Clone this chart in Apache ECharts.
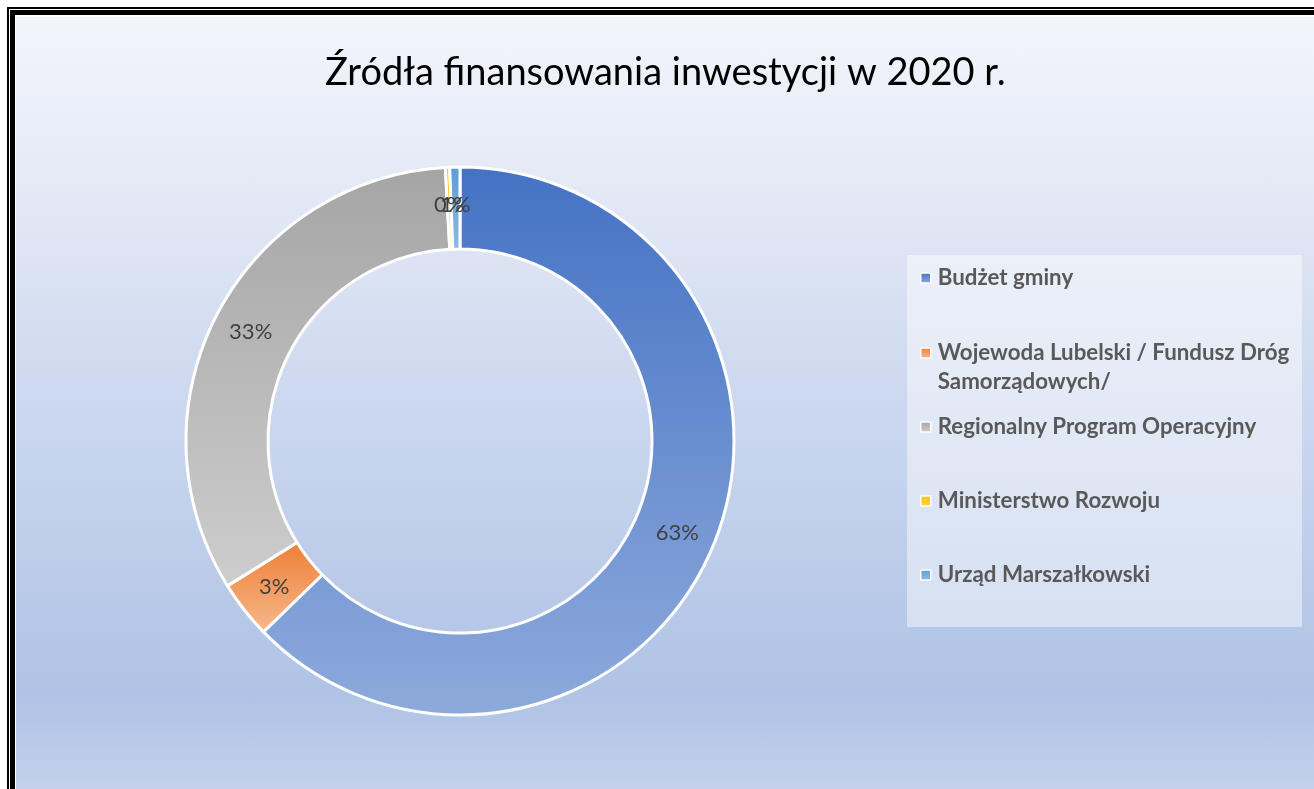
<!DOCTYPE html>
<html>
<head>
<meta charset="utf-8">
<script src="https://cdn.jsdelivr.net/npm/echarts@6/dist/echarts.min.js"></script>
<style>
html,body{margin:0;padding:0;background:#fff;}
#wrap{position:relative;width:1314px;height:789px;overflow:hidden;background:#fff;}
#bg{position:absolute;left:16px;top:17px;right:0;bottom:0;
  background:linear-gradient(to bottom,#f3f5fb 0%,#e2e8f5 24%,#ccd8ef 50%,#b8c9e8 76%,#afc3e6 88%,#c4d0ec 100%);}
.fr{position:absolute;background:#000;}
#chart{position:absolute;left:0;top:0;width:1314px;height:789px;}
</style>
</head>
<body>
<div id="wrap">
  <div id="bg"></div>
  <div class="fr" style="left:7px;top:7px;width:1307px;height:1.5px"></div>
  <div class="fr" style="left:7px;top:7px;width:1.5px;height:782px"></div>
  <div class="fr" style="left:10px;top:10px;width:1304px;height:5px"></div>
  <div class="fr" style="left:10px;top:10px;width:5px;height:779px"></div>
  <div id="chart"></div>
</div>
<script>
// ---- data ----
const titleText = 'Źródła finansowania inwestycji w 2020 r.';
const categories = [
  'Budżet gminy',
  'Wojewoda Lubelski / Fundusz Dróg Samorządowych/',
  'Regionalny Program Operacyjny',
  'Ministerstwo Rozwoju',
  'Urząd Marszałkowski'
];
const shares = [62.7, 3.4, 33.0, 0.25, 0.6];

// ---- styles / layout ----
const gradStops = [
  ['#4472c4', '#8eaadc'],
  ['#ee7f36', '#f6b88b'],
  ['#a5a5a5', '#cdcdcd'],
  ['#ffc000', '#ffd24d'],
  ['#5b9bd5', '#8dbbe5']
];
const legendCenters = [278, 353, 427, 501, 575];
const FONT = 'Lato, "Open Sans", sans-serif';

const chart = echarts.init(document.getElementById('chart'), null, {renderer: 'canvas'});

const legends = categories.map((n, i) => {
  const twoLine = i === 1;
  return {
    data: [n],
    orient: 'vertical',
    left: 920,
    top: twoLine ? legendCenters[i] - 43.5 : legendCenters[i] - 14.5,
    padding: 0,
    itemWidth: 10,
    itemHeight: 10,
    icon: 'rect',
    selectedMode: false,
    itemStyle: {borderColor: '#ffffff', borderWidth: 1.5},
    formatter: name => twoLine ? ' \n' + name.replace(' Samorządowych/', '\nSamorządowych/') : name,
    textStyle: {
      fontFamily: FONT, fontWeight: 'bold', fontSize: 22.3, color: '#595959',
      lineHeight: 29, padding: [0, 0, 0, 2]
    }
  };
});

chart.setOption({
  animation: false,
  title: {
    text: titleText,
    left: 325,
    top: 45,
    padding: 0,
    textStyle: {fontFamily: FONT, fontWeight: 'normal', fontSize: 38, color: '#000', lineHeight: 56}
  },
  graphic: [{
    type: 'rect', z: -1, silent: true,
    shape: {x: 907, y: 255, width: 395, height: 372},
    style: {fill: 'rgba(255,255,255,0.45)'}
  }],
  legend: legends,
  series: [{
    type: 'pie',
    center: [460, 441],
    radius: [192, 274],
    startAngle: 90,
    clockwise: true,
    avoidLabelOverlap: false,
    minShowLabelAngle: 0,
    labelLayout: {hideOverlap: false},
    emphasis: {disabled: true},
    itemStyle: {borderColor: '#ffffff', borderWidth: 3},
    label: {
      show: true,
      position: 'inside',
      overflow: 'none',
      formatter: p => Math.round(p.percent) + '%',
      fontFamily: FONT, fontSize: 22, color: '#404040'
    },
    labelLine: {show: false},
    data: categories.map((n, i) => ({
      name: n,
      value: shares[i],
      label: {show: true},
      itemStyle: {
        color: new echarts.graphic.LinearGradient(0, 0, 0, 1, [
          {offset: 0, color: gradStops[i][0]},
          {offset: 1, color: gradStops[i][1]}
        ])
      }
    }))
  }]
});
</script>
</body>
</html>
